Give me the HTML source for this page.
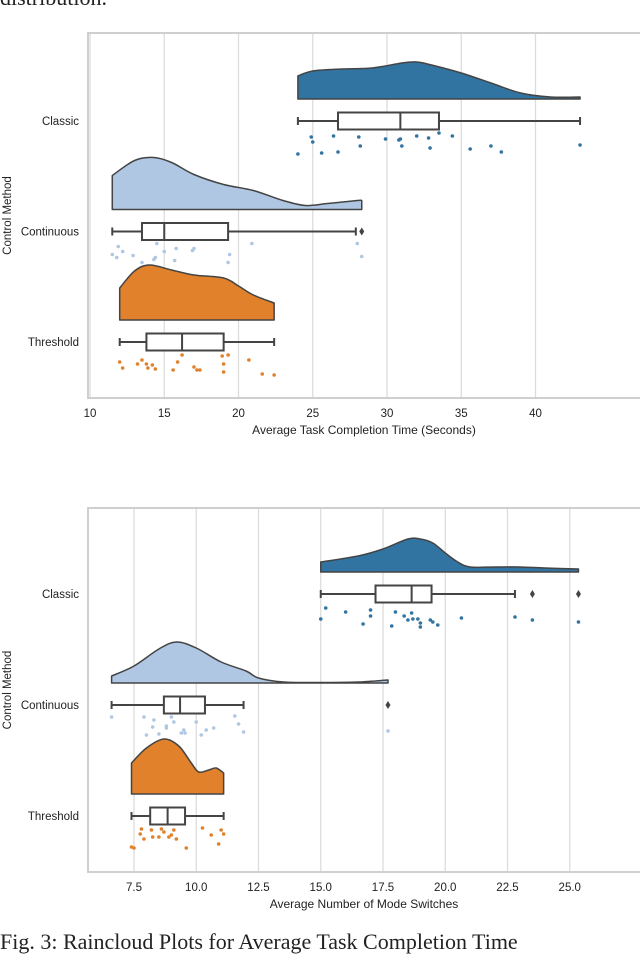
<!DOCTYPE html>
<html><head><meta charset="utf-8"><style>
body{margin:0;background:#fff;width:640px;height:943px;overflow:hidden;position:relative}
.cap{position:absolute;left:0;font-family:"Liberation Serif",serif;font-size:22px;color:#222;white-space:nowrap}
</style></head><body>
<div class="cap" style="top:-15px">distribution.</div>
<div class="cap" style="top:929px">Fig. 3: Raincloud Plots for Average Task Completion Time</div>
<svg id="s" width="640" height="943" style="position:absolute;left:0;top:0" font-family="Liberation Sans, sans-serif"></svg>
<script>
// ---- Chart 1 data ----
const cats = ["Classic","Continuous","Threshold"];
const t_ticks = [10,15,20,25,30,35,40];
const t_violinX = [[24,25,27,29,31,32,33,35,37,39,41,43],[11.5,13,14.3,15.5,17,19,21,23,24.5,26,28,28.3],[12,13,14,15.5,17,19,20,21,22.4]];
const t_violinD = [[23,28,30,31,36,37,34,26,16,6,2,2],[34,49,52,47,35,25,19,9,4,6,9,9],[32,49,55,50,45,42,34,25,17]];
const t_box = [[24,26.7,30.9,33.5,43],[11.5,13.5,15,19.3,27.9],[12,13.8,16.2,19,22.4]];
const t_out = [[],[28.3],[]];
const t_pts = [[24,24.9,25,25.6,26.4,26.7,28.1,28.2,29.9,30.8,30.9,31,32,32.8,32.9,33.5,34.4,35.6,37,37.7,43],
 [11.5,11.9,11.8,12.2,12.9,13.5,14.3,14.4,14.5,15,15.7,15.8,16.9,17,19.3,19.4,20.9,28,28.3],
 [12,12.2,13.2,13.5,13.8,13.9,14.2,14.4,15.6,15.9,16.2,17,17.2,17.4,18.9,19,19,19.3,20.7,21.6,22.4]];
const t_jit = [[33,16,21,32,15,31,16,25,18,19,18,25,15,17,27,12,15,28,25,31,24],
 [23,15,26,20,24,31,28,26,12,20,29,17,19,17,31,23,12,12,25],
 [20,26,22,18,22,26,23,27,28,20,13,25,28,28,14,22,30,13,18,32,33]];
// ---- Chart 2 data ----
const m_ticks = [7.5,10,12.5,15,17.5,20,22.5,25];
const m_violinX = [[15,16.5,17.5,18.5,19,19.5,20,20.5,21,22,23,24,25.35],[6.6,7.5,8.5,9.2,10,11,12,12.5,13.5,15,16.5,17.7],[7.4,8,8.7,9.3,9.8,10.1,10.5,10.8,11.1]];
const m_violinD = [[10,16,23,33,33,29,19,10,5,5,5,4,3],[7,17,34,41,35,21,12,5,1,0.5,1,3],[31,46,55,48,31,22,24,26,21]];
const m_box = [[15,17.2,18.65,19.45,22.8],[6.6,8.7,9.35,10.35,11.9],[7.4,8.15,8.85,9.55,11.1]];
const m_out = [[23.5,25.35],[17.7],[]];
const m_pts = [[15,15.2,16,16.7,17,17,17.85,18,18.35,18.5,18.65,18.7,18.9,19,19,19.4,19.5,19.7,20.65,22.8,23.5,25.35],
 [6.6,7.9,8,8.25,8.3,8.5,8.8,8.8,9,9.1,9.4,9.5,9.55,10,10.2,10.4,10.7,11.55,11.7,11.9,17.7],
 [7.4,7.5,7.75,7.8,7.9,8.2,8.25,8.5,8.6,8.7,8.9,9,9.1,9.2,9.6,10.25,10.6,10.9,11,11.1]];
const m_jit = [[25,14,18,30,16,22,32,18,22,26,19,25,25,29,33,26,28,31,24,23,26,28],
 [12,12,30,22,15,29,23,21,12,17,28,25,28,17,30,25,23,11,19,27,26],
 [31,32,18,13,23,14,21,21,13,16,21,19,14,23,32,12,19,28,14,18]];
const cols=["#3274a1","#b0c7e3","#e1812c"];
const svg=document.getElementById('s');const NS="http://www.w3.org/2000/svg";
function el(t,a,p){const e=document.createElementNS(NS,t);for(const k in a)e.setAttribute(k,a[k]);(p||svg).appendChild(e);return e;}
function chart(o){
  const g=el('g',{});
  
  
  const x=v=>o.x0+(v-o.v0)*o.k;
  o.ticks.forEach(t=>{
    const l=el('line',{x1:x(t),x2:x(t),y1:o.top,y2:o.bot,stroke:'#dcdcdc','stroke-width':1.3},g);
    
    
    const tx=el('text',{x:x(t),y:o.bot+19,'text-anchor':'middle','font-size':11.5,fill:'#222'},g);tx.textContent=o.fmt(t);
    
    
  });
  const fr=el('rect',{x:88,y:o.top,width:560,height:o.bot-o.top,fill:'none',stroke:'#cfcfcf','stroke-width':2},g);
  
  
  cats.forEach((c,i)=>{
    const cy=o.cy0+i*o.dy, base=cy-22;
    const lb=el('text',{x:79,y:cy+4,'text-anchor':'end','font-size':11.5,fill:'#222'},g);lb.textContent=c;
    
    
    const vx=o.vx[i],vd=o.vd[i];
    const P=vx.map((v,j)=>[x(v),base-vd[j]]);
    let d=`M${P[0][0]},${base} L${P[0][0]},${P[0][1]}`;
    for(let j=0;j<P.length-1;j++){
      const p0=P[Math.max(0,j-1)],p1=P[j],p2=P[j+1],p3=P[Math.min(P.length-1,j+2)];
      const c1=[p1[0]+(p2[0]-p0[0])/6,p1[1]+(p2[1]-p0[1])/6];
      const c2=[p2[0]-(p3[0]-p1[0])/6,p2[1]-(p3[1]-p1[1])/6];
      d+=` C${c1[0]},${c1[1]} ${c2[0]},${c2[1]} ${p2[0]},${p2[1]}`;
    }
    d+=` L${P[P.length-1][0]},${base} Z`;
    const p=el('path',{d,fill:cols[i],stroke:'#444','stroke-width':1.5,'stroke-linejoin':'round'},g);
    
    
    const b=o.box[i];
    const bg=el('g',{stroke:'#444','stroke-width':2,fill:'#fff'},g);
    
    
    el('line',{x1:x(b[0]),x2:x(b[1]),y1:cy,y2:cy},bg);el('line',{x1:x(b[3]),x2:x(b[4]),y1:cy,y2:cy},bg);
    el('line',{x1:x(b[0]),x2:x(b[0]),y1:cy-4,y2:cy+4},bg);el('line',{x1:x(b[4]),x2:x(b[4]),y1:cy-4,y2:cy+4},bg);
    el('rect',{x:x(b[1]),y:cy-8.5,width:x(b[3])-x(b[1]),height:17},bg);
    el('line',{x1:x(b[2]),x2:x(b[2]),y1:cy-8.5,y2:cy+8.5},bg);
    o.out[i].forEach(v=>{const q=el('path',{d:`M${x(v)},${cy-4} L${x(v)+2.5},${cy} L${x(v)},${cy+4} L${x(v)-2.5},${cy} Z`,fill:'#444',stroke:'none'},g);
      
      });
    o.pts[i].forEach((v,j)=>{const q=el('circle',{cx:x(v),cy:cy+o.jit[i][j],r:1.8,fill:cols[i]},g);
      
      });
  });
  const xt=el('text',{x:o.xlx,y:o.bot+36,'text-anchor':'middle','font-size':12,fill:'#222'},g);xt.textContent=o.xl;
  
  
  const yt=el('text',{x:0,y:0,'text-anchor':'middle','font-size':11.5,fill:'#222',transform:`translate(11,${(o.top+o.bot)/2}) rotate(-90)`},g);yt.textContent='Control Method';
  
  
}
chart({name:'chart-task-time',x0:90,v0:10,k:14.85,top:33,bot:398,cy0:121,dy:110.5,ticks:t_ticks,fmt:t=>String(t),vx:t_violinX,vd:t_violinD,box:t_box,out:t_out,pts:t_pts,jit:t_jit,xl:'Average Task Completion Time (Seconds)',xlx:364});
chart({name:'chart-mode-switches',x0:134,v0:7.5,k:24.9,top:508,bot:872,cy0:594,dy:111,ticks:m_ticks,fmt:t=>t.toFixed(1),vx:m_violinX,vd:m_violinD,box:m_box,out:m_out,pts:m_pts,jit:m_jit,xl:'Average Number of Mode Switches',xlx:364});
</script>
</body></html>
